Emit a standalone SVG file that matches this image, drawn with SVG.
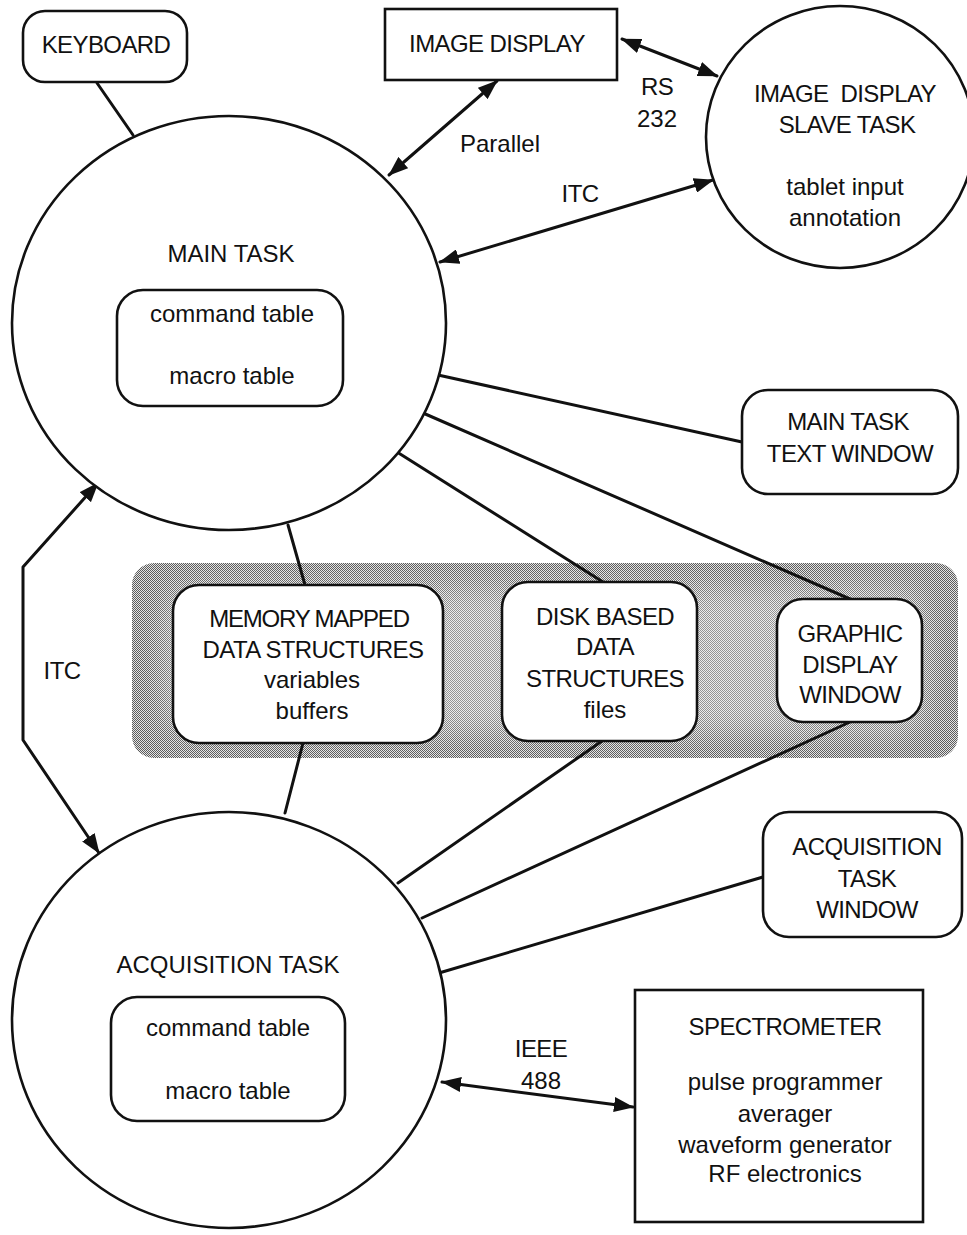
<svg xmlns="http://www.w3.org/2000/svg" width="967" height="1235" viewBox="0 0 967 1235">
  <defs>
    <style>
      text { font-family: "Liberation Sans", Arial, sans-serif; font-size: 24px; fill: #111; text-anchor: middle; }
      .caps { letter-spacing: -0.6px; }
      .shape { fill: #fff; stroke: #111; stroke-width: 2.6; }
      .link { fill: none; stroke: #111; stroke-width: 3; stroke-linecap: round; stroke-linejoin: round; }
      .arrow { marker-start: url(#head); marker-end: url(#head); }
    </style>
    <marker id="head" viewBox="0 0 20 15" refX="19" refY="7.5" markerWidth="20" markerHeight="15" markerUnits="userSpaceOnUse" orient="auto-start-reverse">
      <path d="M0,0 L20,7.5 L0,15 z" fill="#111"/>
    </marker>
    <!-- halftone dither used for the shared data-structure band -->
    <pattern id="dither" width="2" height="2" patternUnits="userSpaceOnUse">
      <rect width="2" height="2" fill="#e4e4e4"/>
      <rect x="0" y="0" width="1" height="1" fill="#5c5c5c"/>
      <rect x="1" y="1" width="1" height="1" fill="#5c5c5c"/>
    </pattern>
    <filter id="soft" x="-10%" y="-30%" width="120%" height="160%">
      <feGaussianBlur stdDeviation="14"/>
    </filter>
    <clipPath id="bandClip">
      <rect x="132" y="563" width="826" height="195" rx="22"/>
    </clipPath>
  </defs>

  <rect width="967" height="1235" fill="#fff"/>

  <!-- shared data-structure band -->
  <g id="band">
    <rect x="132" y="563" width="826" height="195" rx="22" fill="url(#dither)"/>
    <g clip-path="url(#bandClip)">
      <rect x="165" y="588" width="760" height="145" rx="30" fill="#fff" opacity="0.35" filter="url(#soft)"/>
    </g>
  </g>

  <!-- connectors -->
  <g id="connectors">
    <line class="link" x1="97" y1="83" x2="133" y2="135"/>
    <line class="link arrow" x1="497" y1="81" x2="389" y2="175"/>
    <line class="link arrow" x1="622" y1="39" x2="717" y2="76"/>
    <line class="link arrow" x1="713" y1="180" x2="440" y2="262"/>
    <line class="link" x1="438" y1="375" x2="742" y2="442"/>
    <line class="link" x1="423" y1="413" x2="850" y2="599"/>
    <line class="link" x1="397" y1="452" x2="603" y2="582"/>
    <line class="link" x1="288" y1="525" x2="305" y2="585"/>
    <line class="link" x1="303" y1="743" x2="285" y2="813"/>
    <line class="link" x1="602" y1="741" x2="398" y2="883"/>
    <line class="link" x1="850" y1="722" x2="422" y2="918"/>
    <line class="link" x1="763" y1="877" x2="439" y2="973"/>
    <line class="link arrow" x1="442" y1="1082" x2="633" y2="1107"/>
    <polyline class="link arrow" points="98,483 23,567 23,740 99,853"/>
    <text x="460" y="152" style="text-anchor:start">Parallel</text>
    <text x="657" y="95" class="caps">RS</text>
    <text x="657" y="127">232</text>
    <text x="580" y="202" class="caps">ITC</text>
    <text x="62" y="679" class="caps">ITC</text>
    <text x="541" y="1057" class="caps">IEEE</text>
    <text x="541" y="1089">488</text>
  </g>

  <g id="keyboard">
    <rect class="shape" x="23" y="11" width="164" height="71" rx="22"/>
    <text x="106" y="53" class="caps">KEYBOARD</text>
  </g>

  <g id="image-display">
    <rect class="shape" x="385" y="9" width="232" height="71"/>
    <text x="497" y="52" class="caps">IMAGE DISPLAY</text>
  </g>

  <g id="image-display-slave-task">
    <ellipse class="shape" cx="840" cy="137" rx="134" ry="131"/>
    <text x="845" y="102" class="caps" xml:space="preserve">IMAGE  DISPLAY</text>
    <text x="847" y="133" class="caps">SLAVE TASK</text>
    <text x="845" y="195">tablet input</text>
    <text x="845" y="226">annotation</text>
  </g>

  <g id="main-task">
    <ellipse class="shape" cx="229" cy="323" rx="217" ry="207"/>
    <text x="231" y="262">MAIN TASK</text>
    <rect class="shape" x="117" y="290" width="226" height="116" rx="26"/>
    <text x="232" y="322">command table</text>
    <text x="232" y="384">macro table</text>
  </g>

  <g id="main-task-text-window">
    <rect class="shape" x="742" y="390" width="216" height="104" rx="26"/>
    <text x="848" y="430" class="caps">MAIN TASK</text>
    <text x="850" y="462" class="caps">TEXT WINDOW</text>
  </g>

  <g id="memory-mapped">
    <rect class="shape" x="173" y="585" width="270" height="158" rx="26"/>
    <text x="309" y="627" style="letter-spacing:-1.2px">MEMORY MAPPED</text>
    <text x="313" y="658" class="caps">DATA STRUCTURES</text>
    <text x="312" y="688">variables</text>
    <text x="312" y="719">buffers</text>
  </g>

  <g id="disk-based">
    <rect class="shape" x="502" y="582" width="195" height="159" rx="26"/>
    <text x="605" y="625" class="caps">DISK BASED</text>
    <text x="605" y="655" class="caps">DATA</text>
    <text x="605" y="687" class="caps">STRUCTURES</text>
    <text x="605" y="718">files</text>
  </g>

  <g id="graphic-display-window">
    <rect class="shape" x="777" y="599" width="145" height="123" rx="26"/>
    <text x="850" y="642" class="caps">GRAPHIC</text>
    <text x="850" y="673" class="caps">DISPLAY</text>
    <text x="850" y="703" class="caps">WINDOW</text>
  </g>

  <g id="acquisition-task-window">
    <rect class="shape" x="763" y="812" width="199" height="125" rx="26"/>
    <text x="867" y="855" class="caps">ACQUISITION</text>
    <text x="867" y="887" class="caps">TASK</text>
    <text x="867" y="918" class="caps">WINDOW</text>
  </g>

  <g id="acquisition-task">
    <ellipse class="shape" cx="229" cy="1020" rx="217" ry="208"/>
    <text x="228" y="973">ACQUISITION TASK</text>
    <rect class="shape" x="111" y="997" width="234" height="124" rx="26"/>
    <text x="228" y="1036">command table</text>
    <text x="228" y="1099">macro table</text>
  </g>

  <g id="spectrometer">
    <rect class="shape" x="635" y="990" width="288" height="232"/>
    <text x="785" y="1035" class="caps">SPECTROMETER</text>
    <text x="785" y="1090">pulse programmer</text>
    <text x="785" y="1122">averager</text>
    <text x="785" y="1153">waveform generator</text>
    <text x="785" y="1182">RF electronics</text>
  </g>
</svg>
